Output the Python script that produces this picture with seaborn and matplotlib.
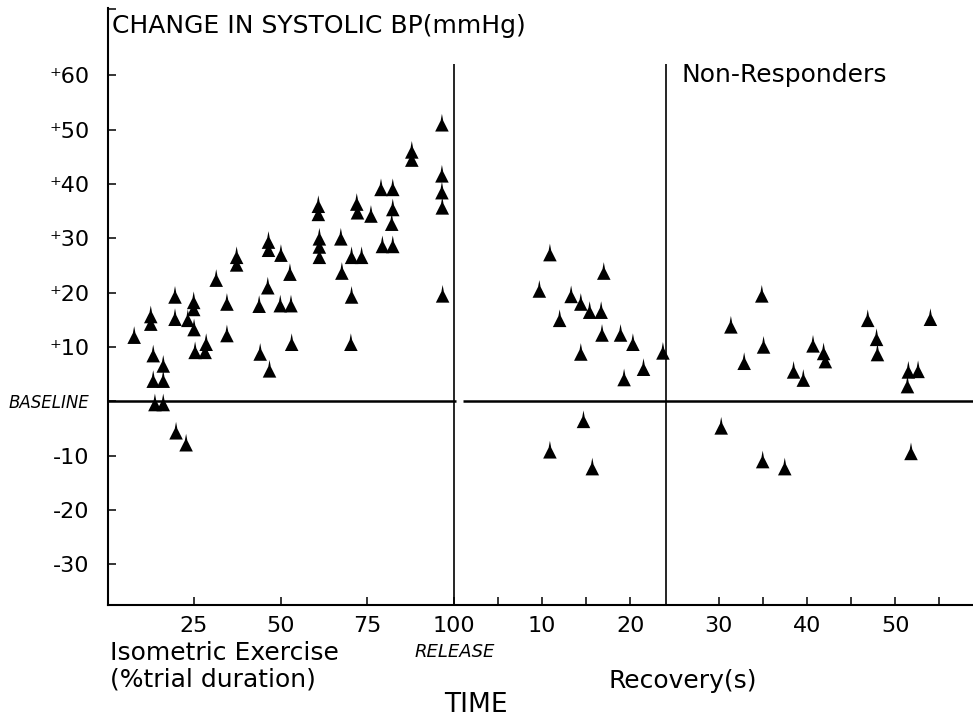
import matplotlib
matplotlib.use("Agg")
import matplotlib.pyplot as plt
import seaborn as sns
import pandas as pd

# Isometric exercise phase: % of trial duration vs change in systolic BP (mmHg)
exercise_pct = [7.7, 12.5, 12.5, 13.2, 16.1, 13.2, 16.1, 13.7, 16.1, 19.8,
                22.7, 19.5, 19.5, 23.2, 25.0, 24.9, 24.9, 25.3, 28.2, 28.5,
                31.4, 34.5, 34.5, 37.3, 37.3, 43.8, 44.1, 46.8, 46.3, 46.5,
                46.5, 50.1, 52.7, 49.9, 53.0, 53.2, 61.2, 61.2, 61.2, 60.9,
                60.9, 67.4, 67.7, 70.5, 73.4, 70.5, 70.3, 72.0, 72.2, 76.1,
                79.4, 82.4, 82.1, 82.4, 79.0, 82.4, 87.9, 87.9, 96.6, 96.6,
                96.6, 96.7, 96.8]
exercise_bp = [11.9, 15.7, 14.3, 8.5, 6.6, 3.8, 3.8, -0.5, -0.5, -5.7,
               -7.9, 19.3, 15.2, 15.0, 13.3, 18.3, 17.0, 9.1, 9.1, 10.6,
               22.4, 18.0, 12.2, 26.6, 25.2, 17.6, 8.8, 5.7, 21.0, 29.4,
               27.9, 27.0, 23.5, 17.7, 17.7, 10.6, 30.0, 28.5, 26.6, 36.0,
               34.5, 30.0, 23.7, 26.6, 26.6, 19.3, 10.6, 36.4, 34.8, 34.2,
               28.6, 28.6, 32.7, 35.4, 39.1, 39.1, 46.0, 44.5, 51.0, 41.6,
               38.5, 35.7, 19.5]

# Recovery phase: seconds after release vs change in systolic BP (mmHg)
recovery_s = [9.7, 10.9, 12.0, 13.3, 14.4, 15.4, 16.7, 17.0, 16.8, 18.9,
              20.3, 23.7, 14.4, 21.5, 19.3, 14.7, 10.9, 15.7,
              31.4, 35.1, 32.9, 40.7, 41.9, 42.1, 38.5, 39.6, 47.9, 48.0,
              51.5, 52.6, 51.4, 30.3, 35.0, 37.5, 51.8, 34.9, 46.9, 54.0]
recovery_bp = [20.4, 27.1, 15.0, 19.4, 18.0, 16.5, 16.5, 23.7, 12.3, 12.3,
               10.6, 9.0, 8.8, 6.0, 4.1, -3.6, -9.2, -12.3,
               13.8, 10.1, 7.1, 10.3, 8.9, 7.4, 5.5, 4.0, 11.5, 8.7,
               5.5, 5.6, 2.8, -4.8, -11.0, -12.3, -9.5, 19.5, 15.0, 15.2]

ex_ticks = [25, 50, 75, 100]
rec_ticks = [10, 20, 30, 40, 50]
rec_minor = [5, 15, 35, 45, 55]
y_ticks = [-30, -20, -10, 0, 10, 20, 30, 40, 50, 60]
y_labels = ["-30", "-20", "-10", "BASELINE", "\u207a10", "\u207a20",
            "\u207a30", "\u207a40", "\u207a50", "\u207a60"]

RELEASE = 100      # release point on the axis
SEC = 2.55         # axis units per second of recovery
NONRESP_S = 24     # second divider (s after release)

def rec_pos(s):
    return RELEASE + SEC * s

df = pd.concat([
    pd.DataFrame({"pos": exercise_pct, "bp": exercise_bp}),
    pd.DataFrame({"pos": [rec_pos(s) for s in recovery_s], "bp": recovery_bp}),
], ignore_index=True)

sns.set_style("ticks")
plt.rcParams["font.family"] = ["DejaVu Sans"]
plt.rcParams["text.color"] = "black"

W, H = 973, 719
fig = plt.figure(figsize=(W / 100, H / 100), dpi=100)
ax = fig.add_axes([107.5 / W, 1 - 605 / H, 1 - 107.5 / W, 597 / H])

# peaked triangle marker like the plotter symbol
tri = [(0, 1.0), (0.12, 0.35), (0.55, -0.5), (0.65, -0.7), (-0.65, -0.7),
       (-0.55, -0.5), (-0.12, 0.35)]
sns.scatterplot(data=df, x="pos", y="bp", marker=tri, s=225, color="black",
                edgecolor="none", linewidth=0, legend=False, ax=ax)

ax.set_xlim(0, 250)
ax.set_ylim(-37.5, 72.4)

# baseline, broken at the release line
ax.hlines(0, 0, 100.6, color="black", lw=1.8)
ax.hlines(0, 102.6, 250, color="black", lw=1.8)
ax.vlines(RELEASE, -37.5, 62, color="black", lw=1.2)
ax.vlines(rec_pos(NONRESP_S), -37.5, 62, color="black", lw=1.2)

ax.set_xticks(ex_ticks + [rec_pos(s) for s in rec_ticks])
ax.set_xticklabels([str(t) for t in ex_ticks] + [str(t) for t in rec_ticks])
ax.set_xticks([rec_pos(s) for s in rec_minor], minor=True)
ax.set_yticks(y_ticks)
ax.set_yticklabels(y_labels)
ax.set_yticks([72.2], minor=True)

ax.tick_params(which="both", direction="in", length=6, width=1.1,
               color="black", labelcolor="black")
ax.tick_params(axis="x", labelsize=16, pad=8)
ax.tick_params(axis="y", labelsize=16, pad=13)
for lab in ax.get_yticklabels():
    if lab.get_text() == "BASELINE":
        lab.set_fontsize(12)
        lab.set_fontstyle("italic")

ax.set_xlabel("")
ax.set_ylabel("")
sns.despine(ax=ax)
for side in ["left", "bottom"]:
    ax.spines[side].set_linewidth(1.5)
    ax.spines[side].set_color("black")

def ftext(x, y, s, **kw):
    fig.text(x / W, 1 - y / H, s, va="center", color="black", **kw)

ftext(112, 26, "CHANGE IN SYSTOLIC BP(mmHg)", fontsize=18)
ftext(681, 75, "Non-Responders", fontsize=18)
ftext(110, 653, "Isometric Exercise", fontsize=18)
ftext(110, 680, "(%trial duration)", fontsize=18)
ftext(455, 652, "RELEASE", fontsize=13, fontstyle="italic", ha="center")
ftext(683, 681, "Recovery(s)", fontsize=18, ha="center")
ftext(476, 705, "TIME", fontsize=19, ha="center")

fig.savefig("out.png", dpi=100)
